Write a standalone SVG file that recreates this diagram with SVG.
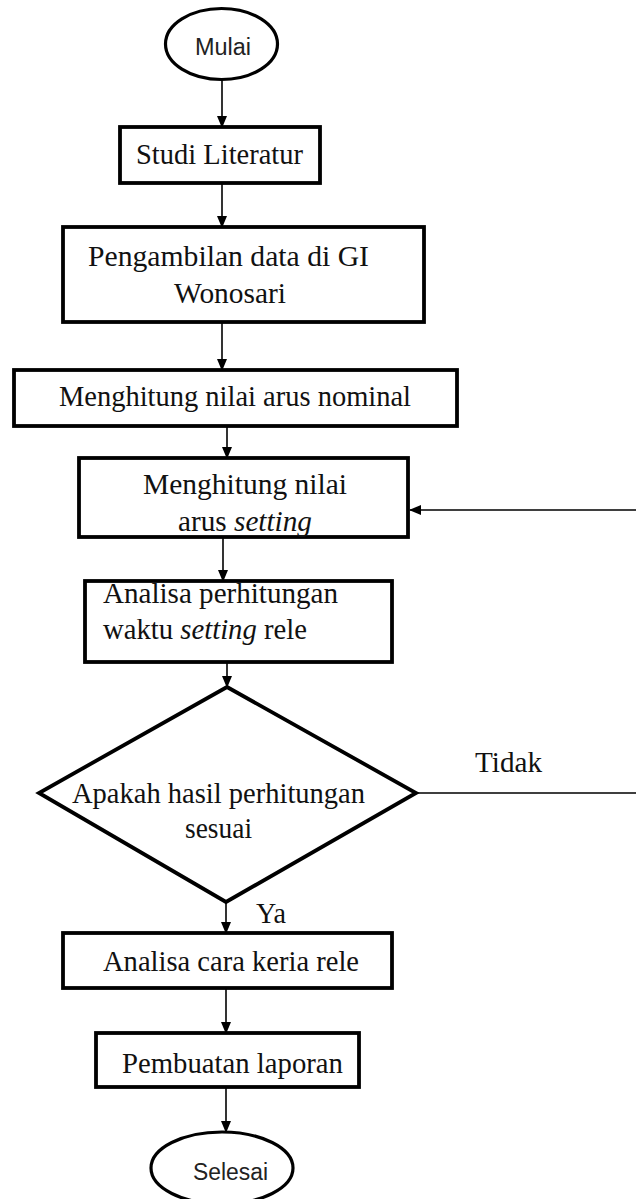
<svg xmlns="http://www.w3.org/2000/svg" width="636" height="1199" viewBox="0 0 636 1199">
<defs>
<marker id="ah" markerWidth="12" markerHeight="12" refX="11" refY="5" orient="auto" markerUnits="userSpaceOnUse" viewBox="0 0 12 10">
<path d="M0,0 L12,5 L0,10 Z" fill="#000"/>
</marker>
<style>
.box{fill:#fff;stroke:#000;stroke-width:3.8}
.term{fill:#fff;stroke:#000;stroke-width:3.2}
.dec{fill:#fff;stroke:#000;stroke-width:3.8}
.t{font-family:"Liberation Serif","Times New Roman",serif;font-size:29px;fill:#111}
.s{font-family:"Liberation Sans",Arial,sans-serif;font-size:23px;fill:#222}
.conn{fill:none;stroke:#000;stroke-width:1.6}
</style>
</defs>
<rect width="636" height="1199" fill="#fff"/>

<g id="connectors">
<line class="conn" x1="222" y1="80" x2="222" y2="127" marker-end="url(#ah)"/>
<line class="conn" x1="222" y1="183" x2="222" y2="227" marker-end="url(#ah)"/>
<line class="conn" x1="222" y1="322" x2="222" y2="370" marker-end="url(#ah)"/>
<line class="conn" x1="227" y1="419" x2="227" y2="458" marker-end="url(#ah)"/>
<line class="conn" x1="223" y1="537" x2="223" y2="581" marker-end="url(#ah)"/>
<line class="conn" x1="227" y1="662" x2="227" y2="687" marker-end="url(#ah)"/>
<line class="conn" x1="226" y1="902" x2="226" y2="933" marker-end="url(#ah)"/>
<line class="conn" x1="226" y1="988" x2="226" y2="1033" marker-end="url(#ah)"/>
<line class="conn" x1="226" y1="1087" x2="226" y2="1132" marker-end="url(#ah)"/>
<path class="conn" d="M416,793 H642 V510 H410" marker-end="url(#ah)"/>
<text class="t" x="475" y="772" textLength="67" lengthAdjust="spacingAndGlyphs">Tidak</text>
<text class="t" x="256" y="923" textLength="30" lengthAdjust="spacingAndGlyphs">Ya</text>
</g>

<g id="n-mulai">
<ellipse class="term" cx="221.5" cy="44" rx="56" ry="35.5"/>
<text class="s" x="195" y="55" textLength="56" lengthAdjust="spacingAndGlyphs">Mulai</text>
</g>

<g id="n-studi">
<rect class="box" x="120" y="127" width="200" height="56"/>
<text class="t" x="136" y="164" textLength="167" lengthAdjust="spacingAndGlyphs">Studi Literatur</text>
</g>

<g id="n-pengambilan">
<rect class="box" x="63" y="227" width="361" height="95"/>
<text class="t" x="88" y="266" textLength="281" lengthAdjust="spacingAndGlyphs">Pengambilan data di GI</text>
<text class="t" x="174" y="303" textLength="112" lengthAdjust="spacingAndGlyphs">Wonosari</text>
</g>

<g id="n-nominal">
<rect class="box" x="14" y="370" width="443" height="56"/>
<text class="t" x="59" y="406" textLength="352" lengthAdjust="spacingAndGlyphs">Menghitung nilai arus nominal</text>
</g>

<g id="n-setting">
<rect class="box" x="79" y="458" width="329" height="79"/>
<text class="t" x="143" y="494" textLength="204" lengthAdjust="spacingAndGlyphs">Menghitung nilai</text>
<text class="t" x="178" y="531" textLength="134" lengthAdjust="spacingAndGlyphs">arus <tspan font-style="italic">setting</tspan></text>
</g>

<g id="n-analisa-waktu">
<rect class="box" x="85" y="581" width="307" height="81"/>
<text class="t" x="103" y="603" textLength="235" lengthAdjust="spacingAndGlyphs">Analisa perhitungan</text>
<text class="t" x="103" y="639" textLength="204" lengthAdjust="spacingAndGlyphs">waktu <tspan font-style="italic">setting</tspan> rele</text>
</g>

<g id="n-apakah">
<polygon class="dec" points="227,687 416,793 226,902 39,793"/>
<text class="t" x="72" y="803" textLength="293" lengthAdjust="spacingAndGlyphs">Apakah hasil perhitungan</text>
<text class="t" x="185" y="838" textLength="67" lengthAdjust="spacingAndGlyphs">sesuai</text>
</g>

<g id="n-analisa-cara">
<rect class="box" x="63" y="933" width="329" height="55"/>
<text class="t" x="103" y="971" textLength="256" lengthAdjust="spacingAndGlyphs">Analisa cara keria rele</text>
</g>

<g id="n-laporan">
<rect class="box" x="96" y="1033" width="263" height="54"/>
<text class="t" x="122" y="1073" textLength="221" lengthAdjust="spacingAndGlyphs">Pembuatan laporan</text>
</g>

<g id="n-selesai">
<ellipse class="term" cx="222" cy="1168" rx="71" ry="36"/>
<text class="s" x="193" y="1180" textLength="75" lengthAdjust="spacingAndGlyphs">Selesai</text>
</g>
</svg>
